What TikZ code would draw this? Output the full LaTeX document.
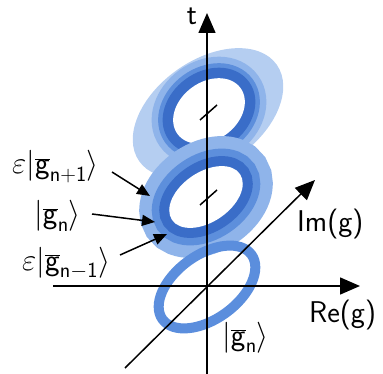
\documentclass[tikz,border=0pt]{standalone}
\usepackage{fix-cm}
\usetikzlibrary{arrows.meta}
\definecolor{vlight}{HTML}{B5CEF1}
\definecolor{lightb}{HTML}{8FB4EA}
\definecolor{medb}{HTML}{5D8FDC}
\definecolor{darkb}{HTML}{3A6DC8}
\definecolor{ringb}{HTML}{5B8EDD}
\begin{document}
\begin{tikzpicture}[x=1pt,y=-1pt,
  lbl/.style={font=\fontsize{30}{36}\selectfont\sffamily, inner sep=0pt},
  mlbl/.style={font=\fontsize{31}{36}\selectfont\sffamily, inner sep=0pt},
  axisline/.style={line width=1.5pt, -{Triangle[length=20pt,width=17pt]}},
  ptr/.style={line width=1.5pt, -{Triangle[length=13pt,width=11pt]}},
  tick/.style={line width=1.5pt},
  tophole/.style={rotate around={36:(209,111)}},
  midhole/.style={rotate around={34:(206,197)}},
]
\useasboundingbox (0,0) rectangle (383,374);
% top stack
\fill[vlight, rotate around={35:(208,113)}] (208,113) ellipse [x radius=84pt, y radius=53pt];
\draw[lightb, line width=43pt, tophole] (209,111) ellipse [x radius=39pt, y radius=29pt];
\draw[medb, line width=30pt, tophole] (209,111) ellipse [x radius=39pt, y radius=29pt];
\draw[darkb, line width=21pt, tophole] (209,111) ellipse [x radius=39pt, y radius=29pt];
\fill[white, tophole] (209,111) ellipse [x radius=39pt, y radius=29pt];
% middle stack
\draw[lightb, line width=60pt, midhole] (206,197) ellipse [x radius=41pt, y radius=25pt];
\draw[medb, line width=35pt, midhole] (206,197) ellipse [x radius=41pt, y radius=25pt];
\draw[darkb, line width=20pt, midhole] (206,197) ellipse [x radius=41pt, y radius=25pt];
\fill[white, midhole] (206,197) ellipse [x radius=41pt, y radius=25pt];
% bottom ring
\draw[ringb, line width=10pt, rotate around={36:(207,287)}] (207,287) ellipse [x radius=55pt, y radius=32pt];
% ticks
\draw[tick] (200,120) -- (217,105);
\draw[tick] (200,205) -- (217,190);
% axes
\coordinate (tB) at (207,374);
\coordinate (tT) at (207,13);
\coordinate (reL) at (53,286);
\coordinate (reR) at (360,286);
\coordinate (imL) at (125,368);
\coordinate (imR) at (315,180);
\draw[axisline] (tB) -- (tT);
\draw[axisline] (reL) -- (reR);
\draw[axisline] (imL) -- (imR);
% axis labels
\node[lbl, anchor=base] (tl) at (192,25) {t};
\node[lbl, anchor=base west] (iml) at (297,232) {Im(g)};
\node[lbl, anchor=base west] (rel) at (309,323) {Re(g)};
\node[mlbl, anchor=base west] (gb) at (222,345) {$|\overline{\mathsf{g}}_{\mathsf{n}}\rangle$};
% left labels
\node[mlbl, anchor=base west] (l1) at (12,174) {$\varepsilon|\overline{\mathsf{g}}_{\mathsf{n+1}}\rangle$};
\node[mlbl, anchor=base west] (l2) at (34,224) {$|\overline{\mathsf{g}}_{\mathsf{n}}\rangle$};
\node[mlbl, anchor=base west] (l3) at (22,270) {$\varepsilon|\overline{\mathsf{g}}_{\mathsf{n-1}}\rangle$};
\coordinate (a1s) at (112,172);
\coordinate (a1e) at (150,196);
\coordinate (a2s) at (92,214);
\coordinate (a2e) at (155,222);
\coordinate (a3s) at (120,255);
\coordinate (a3e) at (167,234);
\draw[ptr] (a1s) -- (a1e);
\draw[ptr] (a2s) -- (a2e);
\draw[ptr] (a3s) -- (a3e);
\end{tikzpicture}
\end{document}
